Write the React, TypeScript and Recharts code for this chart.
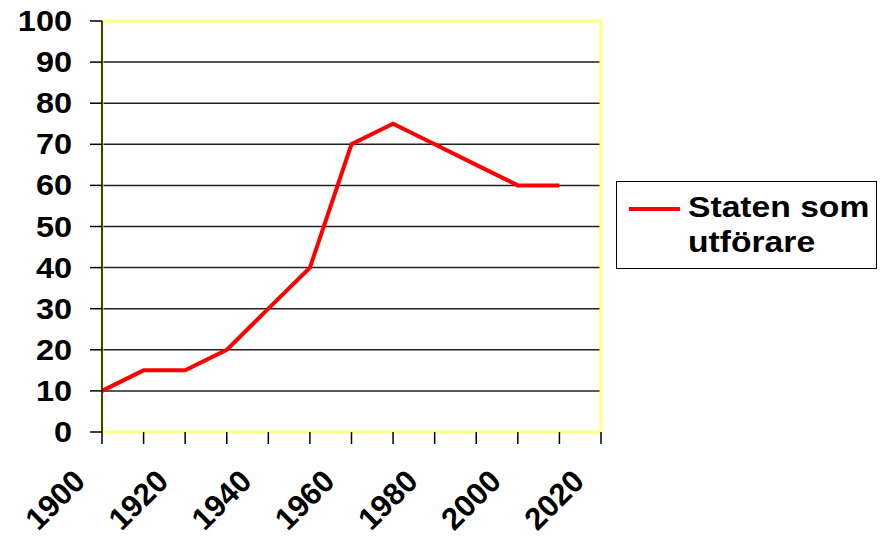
import { LineChart, Line, XAxis, YAxis, CartesianGrid, ReferenceArea } from 'recharts';

const years = [1900, 1910, 1920, 1930, 1940, 1950, 1960, 1970, 1980, 1990, 2000, 2010];
const statenSomUtforare = [10, 15, 15, 20, 30, 40, 70, 75, 70, 65, 60, 60];
const xTicks = [1900, 1910, 1920, 1930, 1940, 1950, 1960, 1970, 1980, 1990, 2000, 2010, 2020];
const xLabels = [1900, 1920, 1940, 1960, 1980, 2000, 2020];
const yTicks = [0, 10, 20, 30, 40, 50, 60, 70, 80, 90, 100];
const legendLines = ['Staten som', 'utförare'];

const data = years.map((year, i) => ({ year, value: statenSomUtforare[i] }));

const FONT = '"Liberation Sans", Arial, sans-serif';
const STRETCH = 1.12; // the source picture is a bit wider than tall

const XTick = (props: any) => {
  const { x, y, payload } = props;
  if (!xLabels.includes(payload.value)) return null;
  const ax = x - 15;
  const ay = y + 39;
  return (
    <text
      transform={`translate(${ax} ${ay}) rotate(-45)`}
      textAnchor="end"
      fontFamily={FONT}
      fontWeight="bold"
      fontSize={31}
      fill="#000"
    >
      {payload.value}
    </text>
  );
};

const YTick = (props: any) => {
  const { x, y, payload } = props;
  return (
    <text
      transform={`translate(${x} ${y + 10}) scale(${STRETCH} 1)`}
      textAnchor="end"
      fontFamily={FONT}
      fontWeight="bold"
      fontSize={29}
      fill="#000"
    >
      {payload.value}
    </text>
  );
};

export default function App() {
  return (
    <div style={{ position: 'absolute', left: 0, top: 0, width: 881, height: 541, background: '#fff' }}>
      <LineChart width={881} height={541} data={data} margin={{ top: 21, right: 280, left: 0, bottom: 0 }}>
        <CartesianGrid horizontal vertical={false} stroke="#222" strokeWidth={1.5} />
        <ReferenceArea x1={1900} x2={2020} y1={0} y2={100} fill="none" stroke="#ffff80" strokeWidth={3} />
        <XAxis
          dataKey="year"
          type="number"
          domain={[1900, 2020]}
          ticks={xTicks}
          interval={0}
          height={109}
          tickSize={12}
          tickMargin={0}
          axisLine={false}
          tickLine={{ stroke: '#000', strokeWidth: 1.5 }}
          tick={<XTick />}
        />
        <YAxis
          domain={[0, 100]}
          ticks={yTicks}
          interval={0}
          width={102}
          tickSize={12}
          tickMargin={18}
          axisLine={{ stroke: '#000', strokeWidth: 1.5 }}
          tickLine={{ stroke: '#000', strokeWidth: 1.5 }}
          tick={<YTick />}
        />
        <Line
          type="linear"
          dataKey="value"
          name={legendLines.join(' ')}
          stroke="#ff0000"
          strokeWidth={4}
          dot={false}
          isAnimationActive={false}
        />
      </LineChart>
      <div
        style={{
          position: 'absolute',
          left: 616,
          top: 181,
          boxSizing: 'border-box',
          width: 261,
          height: 88,
          border: '1px solid #000',
          background: '#fff',
        }}
      >
        <div style={{ position: 'absolute', left: 12, top: 25, width: 51, height: 4, background: '#ff0000' }} />
        <div
          style={{
            position: 'absolute',
            left: 71,
            top: 8,
            fontFamily: FONT,
            fontWeight: 'bold',
            fontSize: 29,
            lineHeight: '35px',
            whiteSpace: 'nowrap',
            transform: `scaleX(${1.16})`,
            transformOrigin: 'left top',
          }}
        >
          {legendLines[0]}
          <br />
          {legendLines[1]}
        </div>
      </div>
    </div>
  );
}
